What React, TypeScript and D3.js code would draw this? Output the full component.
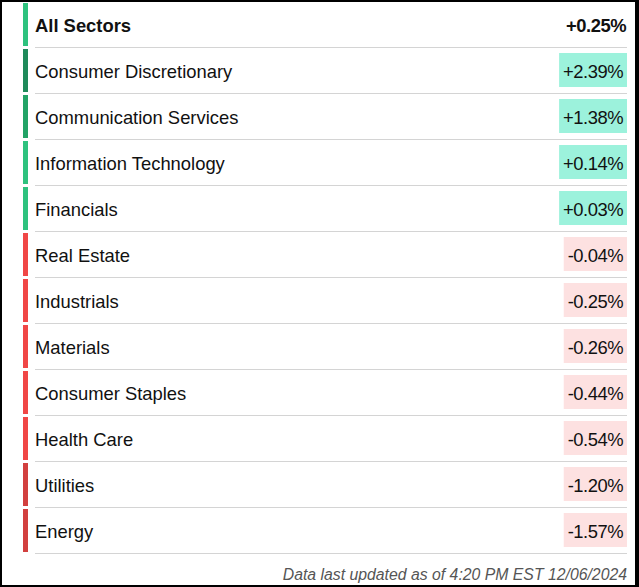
import React, { useEffect, useRef } from "react";
import * as d3 from "d3";

const sectors = [
  "All Sectors",
  "Consumer Discretionary",
  "Communication Services",
  "Information Technology",
  "Financials",
  "Real Estate",
  "Industrials",
  "Materials",
  "Consumer Staples",
  "Health Care",
  "Utilities",
  "Energy",
];
const changes = [0.25, 2.39, 1.38, 0.14, 0.03, -0.04, -0.25, -0.26, -0.44, -0.54, -1.2, -1.57];
const footerText = "Data last updated as of 4:20 PM EST 12/06/2024";

const W = 639;
const H = 587;

export default function App() {
  const ref = useRef<SVGSVGElement | null>(null);

  useEffect(() => {
    const svg = d3.select(ref.current);
    svg.selectAll("*").remove();

    svg.append("rect").attr("x", 0).attr("y", 0).attr("width", W).attr("height", H).attr("fill", "#000");
    svg.append("rect").attr("x", 2).attr("y", 2).attr("width", 633).attr("height", 583).attr("fill", "#fff");

    const y = d3.scaleBand<number>().domain(d3.range(sectors.length)).range([1, 1 + 46 * sectors.length]);

    const barColor = (v: number) => {
      if (v >= 0) {
        if (v >= 2) return "#1f8a5a";
        if (v >= 1) return "#22a366";
        return "#2ec27e";
      }
      if (v <= -1) return "#d2403f";
      return "#f04746";
    };

    const font = "'Liberation Sans', Arial, Helvetica, sans-serif";

    const rows = svg
      .selectAll("g.row")
      .data(sectors)
      .enter()
      .append("g")
      .attr("class", "row")
      .attr("transform", (_d, i) => `translate(0,${y(i)})`);

    rows
      .append("rect")
      .attr("x", 23)
      .attr("y", 2)
      .attr("width", 5)
      .attr("height", 43)
      .attr("fill", (_d, i) => barColor(changes[i]));

    rows
      .append("line")
      .attr("x1", 35)
      .attr("x2", 627)
      .attr("y1", 46.5)
      .attr("y2", 46.5)
      .attr("stroke", "#d4d4d4")
      .attr("stroke-width", 1.2);

    rows
      .append("text")
      .attr("x", 35)
      .attr("y", 31)
      .attr("font-family", font)
      .attr("font-size", 18.4)
      .attr("font-weight", (_d, i) => (i === 0 ? "bold" : "normal"))
      .attr("fill", "#111")
      .text((d) => d);

    const fmt = (v: number) => (v >= 0 ? "+" : "-") + Math.abs(v).toFixed(2) + "%";

    rows.each(function (_d, i) {
      const g = d3.select(this);
      const v = changes[i];
      const boxG = g.append("g");
      const t = g
        .append("text")
        .attr("x", i === 0 ? 626 : 623)
        .attr("y", 31)
        .attr("text-anchor", "end")
        .attr("font-family", font)
        .attr("font-size", 18.4)
        .attr("font-weight", i === 0 ? "bold" : "normal")
        .attr("fill", "#111")
        .attr("letter-spacing", -0.5)
        .text(fmt(v));
      if (i > 0) {
        const w = (t.node() as SVGTextElement).getComputedTextLength();
        boxG
          .append("rect")
          .attr("x", 627 - w - 8)
          .attr("y", 6)
          .attr("width", w + 8)
          .attr("height", 34)
          .attr("fill", v >= 0 ? "#9cf2dc" : "#fde1e1");
      }
    });

    svg
      .append("text")
      .attr("x", 627)
      .attr("y", 580)
      .attr("text-anchor", "end")
      .attr("font-family", font)
      .attr("font-size", 15.8)
      .attr("font-style", "italic")
      .attr("fill", "#555")
      .text(footerText);
  }, []);

  return (
    <svg
      ref={ref}
      width={W}
      height={H}
      style={{ position: "absolute", left: 0, top: 0, display: "block" }}
    />
  );
}
